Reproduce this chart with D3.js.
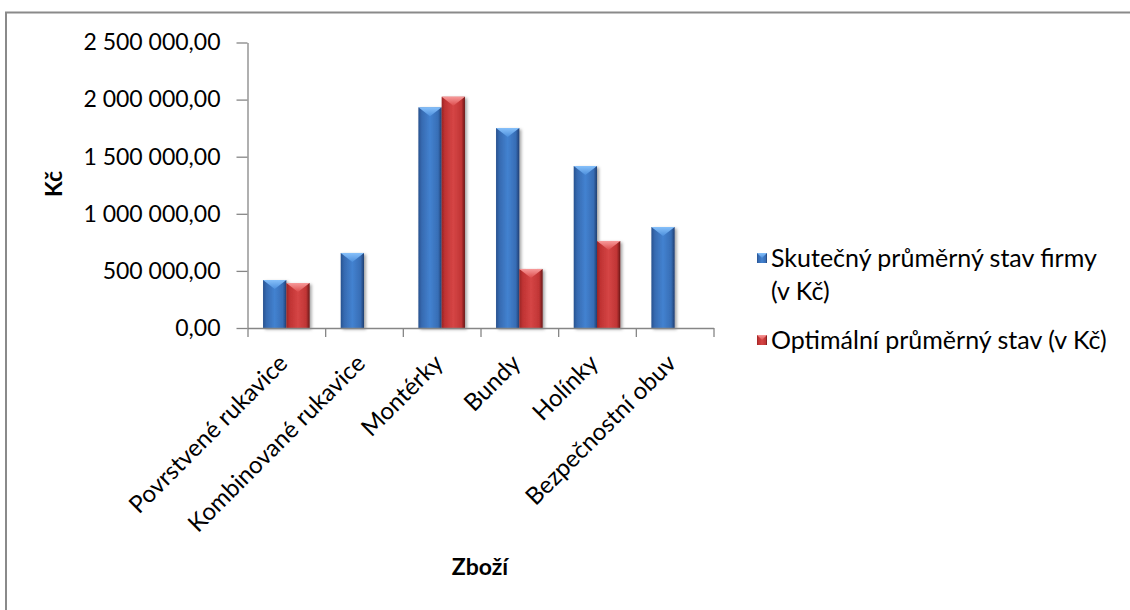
<!DOCTYPE html>
<html>
<head>
<meta charset="utf-8">
<script src="https://d3js.org/d3.v7.min.js"></script>
<style>
    body { margin: 0; background: #fff; }
    text { font-family: Lato, "Open Sans", sans-serif; fill: #000; }
    .axis path, .axis line { stroke: #868686; stroke-width: 1.3; }
</style>
</head>
<body>
<div id="chart"></div>
<script>

// Chart data
var categories = ["Povrstvené rukavice", "Kombinované rukavice", "Montérky", "Bundy", "Holínky", "Bezpečnostní obuv"];
var seriesNames = ["Skutečný průměrný stav firmy", "Optimální průměrný stav (v Kč)"];
var actualValues = [420000, 657000, 1932000, 1751000, 1418000, 884000];
var optimalValues = [394000, null, 2025000, 517000, 762000, null];
var yTicks = [0, 500000, 1000000, 1500000, 2000000, 2500000];


/*
 *  ProductChart - Object constructor function
 *  @param _parentElement   -- HTML element in which to draw the visualization
 */

ProductChart = function(_parentElement) {
    this.parentElement = _parentElement;
    this.initVis();
};


/*
 *  Initialize visualization
 */

ProductChart.prototype.initVis = function() {
    var vis = this;

    vis.plot = { left: 247.5, right: 713.5, top: 42.5, bottom: 328 };

    vis.svg = d3.select("#" + vis.parentElement).append("svg")
        .attr("width", 1130)
        .attr("height", 610);

    vis.svg.append("rect")
        .attr("width", 1130)
        .attr("height", 610)
        .attr("fill", "#fff");

    // outer chart frame (cut off at right and bottom)
    vis.svg.append("rect")
        .attr("x", 6)
        .attr("y", 12.5)
        .attr("width", 1140)
        .attr("height", 640)
        .attr("fill", "none")
        .attr("stroke", "#8a8a8a")
        .attr("stroke-width", 2);

    var defs = vis.svg.append("defs");

    var shadow = defs.append("filter")
        .attr("id", "shadow")
        .attr("x", "-20%").attr("y", "-5%")
        .attr("width", "150%").attr("height", "115%");
    shadow.append("feDropShadow")
        .attr("dx", 2).attr("dy", 1.5)
        .attr("stdDeviation", 1.6)
        .attr("flood-color", "#000")
        .attr("flood-opacity", 0.35);

    vis.colors = [
        { id: "blue", stops: ["#28528f", "#366ab1", "#4382d0", "#376db5", "#213f72"], top: ["#86c0fa", "#4d8fdc"] },
        { id: "red", stops: ["#9a2525", "#c03333", "#d54545", "#c03535", "#6a1616"], top: ["#f79a9a", "#dc4c4c"] }
    ];

    vis.colors.forEach(function(c) {
        var g = defs.append("linearGradient")
            .attr("id", "body-" + c.id)
            .attr("x1", 0).attr("x2", 1).attr("y1", 0).attr("y2", 0);
        [0, 0.15, 0.5, 0.85, 1].forEach(function(o, i) {
            g.append("stop").attr("offset", o).attr("stop-color", c.stops[i]);
        });
        var t = defs.append("linearGradient")
            .attr("id", "top-" + c.id)
            .attr("x1", 0).attr("x2", 0).attr("y1", 0).attr("y2", 1);
        t.append("stop").attr("offset", 0).attr("stop-color", c.top[0]);
        t.append("stop").attr("offset", 1).attr("stop-color", c.top[1]);
    });

    // Scales and axes
    vis.x = d3.scaleBand()
        .domain(categories)
        .range([vis.plot.left, vis.plot.right]);

    vis.xEdge = d3.scaleLinear()
        .domain([0, categories.length])
        .range([vis.plot.left, vis.plot.right]);

    vis.y = d3.scaleLinear()
        .domain([0, 2500000])
        .range([vis.plot.bottom, vis.plot.top]);

    var gap = vis.x.bandwidth() * 0.2;
    vis.x1 = d3.scaleBand()
        .domain([0, 1])
        .range([gap, vis.x.bandwidth() - gap]);

    vis.format = d3.formatLocale({ decimal: ",", thousands: " ", grouping: [3], currency: ["", ""] }).format(",.2f");

    vis.yAxis = d3.axisLeft(vis.y)
        .tickValues(yTicks)
        .tickSize(11)
        .tickSizeOuter(0)
        .tickPadding(16)
        .tickFormat(vis.format);

    vis.xAxis = d3.axisBottom(vis.xEdge)
        .tickValues(d3.range(categories.length + 1))
        .tickSize(9)
        .tickSizeOuter(0)
        .tickFormat("");

    vis.updateVis();
};


/*
 *  The drawing function
 */

ProductChart.prototype.updateVis = function() {
    var vis = this;

    var series = [actualValues, optimalValues];
    var bars = [];
    series.forEach(function(values, s) {
        values.forEach(function(v, i) {
            if (v !== null) bars.push({ cat: categories[i], s: s, value: v });
        });
    });

    var w = vis.x1.bandwidth();

    var barG = vis.svg.selectAll(".bar")
        .data(bars)
        .enter().append("g")
        .attr("class", "bar")
        .attr("filter", "url(#shadow)");

    barG.append("rect")
        .attr("x", function(d) { return vis.x(d.cat) + vis.x1(d.s); })
        .attr("y", function(d) { return vis.y(d.value); })
        .attr("width", w)
        .attr("height", function(d) { return vis.y(0) - vis.y(d.value); })
        .attr("fill", function(d) { return "url(#body-" + vis.colors[d.s].id + ")"; });

    barG.append("path")
        .attr("d", function(d) {
            var x0 = vis.x(d.cat) + vis.x1(d.s);
            var y0 = vis.y(d.value);
            return "M" + x0 + "," + y0 + "L" + (x0 + w) + "," + y0 + "L" + (x0 + w / 2) + "," + (y0 + 9) + "Z";
        })
        .attr("fill", function(d) { return "url(#top-" + vis.colors[d.s].id + ")"; });

    // Axes
    vis.svg.append("g")
        .attr("class", "y-axis axis")
        .attr("transform", "translate(" + vis.plot.left + ",0)")
        .call(vis.yAxis)
        .selectAll("text")
        .style("font-family", "Lato")
        .style("font-size", "23px")
        .attr("fill", "#000");

    vis.svg.append("g")
        .attr("class", "x-axis axis")
        .attr("transform", "translate(0," + vis.plot.bottom + ")")
        .call(vis.xAxis);

    vis.svg.selectAll(".axis .domain").attr("stroke", "#868686");

    vis.svg.selectAll(".x-label")
        .data(categories)
        .enter().append("text")
        .attr("class", "x-label")
        .attr("transform", function(d) {
            return "translate(" + (vis.x(d) + vis.x.bandwidth() / 2 - 10) + "," + (vis.plot.bottom + 24) + ") rotate(-45)";
        })
        .attr("dy", "0.75em")
        .style("text-anchor", "end")
        .style("font-size", "24px")
        .text(function(d) { return d; });

    // Axis titles
    vis.svg.append("text")
        .attr("transform", "translate(62,184) rotate(-90)")
        .style("text-anchor", "middle")
        .style("font-size", "23px")
        .style("font-weight", "bold")
        .text("Kč");

    vis.svg.append("text")
        .attr("x", 480)
        .attr("y", 575)
        .style("text-anchor", "middle")
        .style("font-size", "23px")
        .style("font-weight", "bold")
        .text("Zboží");

    // Legend
    var legend = vis.svg.append("g").attr("class", "legend");
    var legendRows = [
        { s: 0, y: 253, lines: [seriesNames[0], "(v Kč)"] },
        { s: 1, y: 335, lines: [seriesNames[1]] }
    ];

    legendRows.forEach(function(r) {
        var c = vis.colors[r.s];
        legend.append("rect")
            .attr("x", 757).attr("y", r.y)
            .attr("width", 10).attr("height", 10)
            .attr("fill", "url(#body-" + c.id + ")");
        legend.append("path")
            .attr("d", "M757," + r.y + "L767," + r.y + "L762," + (r.y + 5) + "Z")
            .attr("fill", "url(#top-" + c.id + ")");
        r.lines.forEach(function(t, i) {
            legend.append("text")
                .attr("x", 771)
                .attr("y", r.y + 14 + i * 33)
                .style("font-size", "25px")
                .text(t);
        });
    });
};

new ProductChart("chart");
</script>
</body>
</html>
